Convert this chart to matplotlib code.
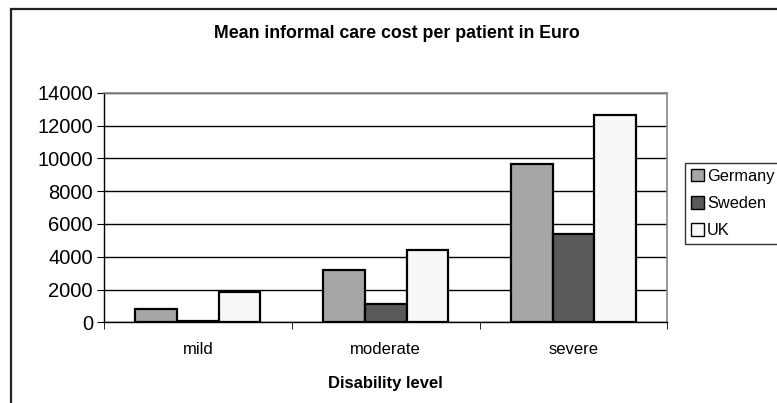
import matplotlib.pyplot as plt
from matplotlib.patches import Rectangle
import numpy as np

plt.rcParams['font.family'] = ['Liberation Sans', 'DejaVu Sans']

categories = ['mild', 'moderate', 'severe']
germany = [790, 3200, 9650]
sweden = [80, 1130, 5380]
uk = [1850, 4400, 12650]
series_names = ['Germany', 'Sweden', 'UK']
colors = ['#a6a6a6', '#595959', '#f8f8f8']

W, H = 777, 403
fig = plt.figure(figsize=(W / 100, H / 100), dpi=100)

# outer chart frame (goes off the right and bottom edges)
fig.patches.append(Rectangle((11 / W, -0.1), 1.2, 1 - 9 / H + 0.1, transform=fig.transFigure,
                             fill=False, edgecolor='#222222', linewidth=1.6))

ax = fig.add_axes([104 / W, 1 - 322.3 / H, (667.3 - 104) / W, (322.3 - 92.7) / H])

x = np.arange(len(categories))
w = 1 / 4.5
for i, (vals, name, c) in enumerate(zip([germany, sweden, uk], series_names, colors)):
    ax.bar(x + (i - 1) * w, vals, width=w, color=c, edgecolor='black', linewidth=1.6,
           label=name, zorder=3)

ax.set_xlim(-0.5, 2.5)
ax.set_ylim(0, 14000)
ax.set_yticks(range(0, 14001, 2000))
ax.set_yticklabels([str(v) for v in range(0, 14001, 2000)], fontsize=14.5)
ax.yaxis.grid(True, color='black', linewidth=1, zorder=0)

ax.set_xticks(x)
ax.set_xticklabels(categories, fontsize=12)
ax.tick_params(axis='x', length=0, pad=14)
ax.set_xticks([-0.5, 0.5, 1.5, 2.5], minor=True)
ax.tick_params(axis='x', which='minor', length=5, direction='out', color='black')
ax.tick_params(axis='y', length=5, direction='out', color='black', pad=3)

for s in ['top', 'right']:
    ax.spines[s].set_color('#888888')
    ax.spines[s].set_linewidth(1.2)
for s in ['left', 'bottom']:
    ax.spines[s].set_color('black')
    ax.spines[s].set_linewidth(1)

ax.set_xlabel('Disability level', fontsize=12, fontweight='bold', labelpad=14)
fig.text(397 / W, 1 - 34 / H, 'Mean informal care cost per patient in Euro',
         ha='center', va='center', fontsize=12.8, fontweight='bold')

leg = fig.legend(loc='upper left', bbox_to_anchor=(685 / W, 1 - 163 / H), fontsize=11.8,
                 frameon=True, fancybox=False, handlelength=0.8, handleheight=0.8,
                 handletextpad=0.2, borderpad=0.35, labelspacing=0.75, borderaxespad=0)
leg.get_frame().set_edgecolor('black')
leg.get_frame().set_linewidth(1)
for h in leg.legend_handles:
    h.set_linewidth(1)

fig.savefig('out.png', dpi=100)
